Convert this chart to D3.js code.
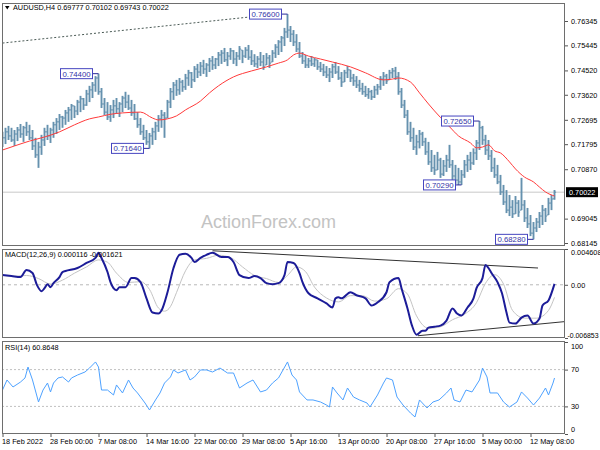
<!DOCTYPE html>
<html><head><meta charset="utf-8">
<script src="https://cdn.jsdelivr.net/npm/d3@7"></script>
<style>body{margin:0;background:#fff}</style>
</head><body>
<svg id="c" width="600" height="450"></svg>
<script>
// ---------------- DATA ----------------
const opens=[0.7180,0.7203,0.7225,0.7210,0.7195,0.7217,0.7232,0.7217,0.7240,0.7225,
0.7203,0.7173,0.7140,0.7169,0.7195,0.7225,0.7210,0.7232,0.7251,0.7262,
0.7280,0.7276,0.7295,0.7306,0.7321,0.7302,0.7335,0.7347,0.7324,0.7365,
0.7380,0.7398,0.7424,0.7373,0.7328,0.7298,0.7280,0.7306,0.7321,0.7310,
0.7328,0.7350,0.7335,0.7313,0.7295,0.7273,0.7251,0.7225,0.7203,0.7188,
0.7210,0.7225,0.7247,0.7273,0.7287,0.7276,0.7335,0.7373,0.7398,0.7380,
0.7409,0.7391,0.7424,0.7443,0.7417,0.7457,0.7446,0.7468,0.7457,0.7472,
0.7487,0.7472,0.7494,0.7509,0.7516,0.7491,0.7505,0.7524,0.7494,0.7505,
0.7527,0.7505,0.7527,0.7501,0.7487,0.7476,0.7494,0.7483,0.7472,0.7498,
0.7483,0.7516,0.7538,0.7557,0.7572,0.7594,0.7601,0.7586,0.7557,0.7531,
0.7505,0.7487,0.7472,0.7487,0.7476,0.7491,0.7465,0.7457,0.7446,0.7435,
0.7446,0.7465,0.7446,0.7424,0.7409,0.7443,0.7454,0.7424,0.7413,0.7398,
0.7384,0.7373,0.7362,0.7373,0.7354,0.7380,0.7391,0.7420,0.7431,0.7417,
0.7443,0.7450,0.7428,0.7373,0.7324,0.7287,0.7225,0.7203,0.7169,0.7188,
0.7217,0.7188,0.7151,0.7114,0.7092,0.7084,0.7121,0.7069,0.7099,0.7121,
0.7103,0.7062,0.7047,0.7040,0.7066,0.7103,0.7121,0.7110,0.7147,0.7184,
0.7240,0.7195,0.7158,0.7136,0.7092,0.7066,0.7040,0.7003,0.6966,0.6936,
0.6947,0.6922,0.6962,0.6936,0.6955,0.6907,0.6885,0.6851,0.6870,0.6892,
0.6914,0.6936,0.6918,0.6962,0.69777];
const highs=[0.7225,0.7240,0.7247,0.7240,0.7232,0.7243,0.7254,0.7247,0.7262,0.7251,
0.7232,0.7203,0.7188,0.7214,0.7240,0.7251,0.7240,0.7262,0.7276,0.7291,
0.7284,0.7306,0.7317,0.7328,0.7321,0.7343,0.7358,0.7350,0.7380,0.7395,
0.7409,0.7431,0.7440,0.7387,0.7350,0.7335,0.7324,0.7343,0.7350,0.7335,
0.7358,0.7373,0.7362,0.7343,0.7328,0.7298,0.7276,0.7251,0.7232,0.7221,
0.7240,0.7262,0.7287,0.7306,0.7298,0.7343,0.7387,0.7409,0.7417,0.7424,
0.7417,0.7439,0.7454,0.7446,0.7468,0.7476,0.7483,0.7491,0.7479,0.7498,
0.7505,0.7498,0.7520,0.7527,0.7535,0.7520,0.7535,0.7527,0.7520,0.7542,
0.7527,0.7538,0.7546,0.7527,0.7512,0.7505,0.7520,0.7509,0.7516,0.7509,
0.7527,0.7549,0.7564,0.7579,0.7609,0.7660,0.7616,0.7601,0.7586,0.7557,
0.7520,0.7509,0.7498,0.7505,0.7498,0.7491,0.7483,0.7476,0.7468,0.7461,
0.7476,0.7483,0.7468,0.7446,0.7454,0.7468,0.7454,0.7439,0.7431,0.7417,
0.7406,0.7395,0.7387,0.7380,0.7395,0.7402,0.7431,0.7446,0.7439,0.7454,
0.7461,0.7465,0.7446,0.7387,0.7343,0.7306,0.7262,0.7240,0.7214,0.7232,
0.7225,0.7203,0.7188,0.7158,0.7140,0.7151,0.7129,0.7121,0.7140,0.7177,
0.7121,0.7103,0.7092,0.7084,0.7121,0.7140,0.7151,0.7164,0.7195,0.7265,
0.7247,0.7214,0.7195,0.7158,0.7129,0.7103,0.7066,0.7029,0.7010,0.6992,
0.6973,0.6988,0.6973,0.7055,0.6973,0.6944,0.6918,0.6892,0.6907,0.6929,
0.6955,0.6944,0.6981,0.6992,0.70102];
const lows=[0.7169,0.7180,0.7195,0.7188,0.7173,0.7191,0.7203,0.7188,0.7210,0.7195,
0.7158,0.7129,0.7092,0.7140,0.7173,0.7195,0.7184,0.7203,0.7217,0.7232,
0.7240,0.7251,0.7262,0.7269,0.7276,0.7287,0.7298,0.7306,0.7321,0.7335,
0.7350,0.7373,0.7362,0.7313,0.7287,0.7269,0.7262,0.7276,0.7291,0.7280,
0.7298,0.7313,0.7306,0.7284,0.7269,0.7240,0.7214,0.7195,0.7177,0.7164,
0.7177,0.7195,0.7225,0.7240,0.7203,0.7276,0.7313,0.7343,0.7358,0.7362,
0.7373,0.7380,0.7395,0.7387,0.7409,0.7424,0.7431,0.7439,0.7428,0.7446,
0.7454,0.7457,0.7468,0.7476,0.7483,0.7468,0.7491,0.7476,0.7468,0.7491,
0.7479,0.7498,0.7491,0.7472,0.7465,0.7461,0.7468,0.7454,0.7472,0.7461,
0.7483,0.7498,0.7509,0.7520,0.7542,0.7572,0.7557,0.7542,0.7520,0.7498,
0.7476,0.7461,0.7461,0.7468,0.7465,0.7454,0.7446,0.7431,0.7424,0.7409,
0.7424,0.7439,0.7417,0.7391,0.7409,0.7424,0.7409,0.7395,0.7387,0.7373,
0.7362,0.7354,0.7347,0.7343,0.7350,0.7362,0.7380,0.7395,0.7402,0.7417,
0.7424,0.7417,0.7362,0.7313,0.7276,0.7214,0.7188,0.7158,0.7140,0.7164,
0.7173,0.7140,0.7103,0.7077,0.7066,0.7084,0.7055,0.7062,0.7077,0.7092,
0.7047,0.7032,0.7029,0.7029,0.7055,0.7077,0.7084,0.7103,0.7121,0.7158,
0.7177,0.7140,0.7121,0.7077,0.7055,0.7032,0.6992,0.6955,0.6925,0.6914,
0.6907,0.6922,0.6911,0.6936,0.6892,0.6870,0.6840,0.6828,0.6855,0.6870,
0.6881,0.6892,0.6918,0.6936,0.69743];
const closes=[0.7203,0.7225,0.7210,0.7195,0.7217,0.7232,0.7217,0.7240,0.7225,0.7203,
0.7173,0.7140,0.7169,0.7195,0.7225,0.7210,0.7232,0.7251,0.7262,0.7280,
0.7276,0.7295,0.7306,0.7321,0.7302,0.7335,0.7347,0.7324,0.7365,0.7380,
0.7398,0.7424,0.7373,0.7328,0.7298,0.7280,0.7306,0.7321,0.7310,0.7328,
0.7350,0.7335,0.7313,0.7295,0.7273,0.7251,0.7225,0.7203,0.7188,0.7210,
0.7225,0.7247,0.7273,0.7287,0.7276,0.7335,0.7373,0.7398,0.7380,0.7409,
0.7391,0.7424,0.7443,0.7417,0.7457,0.7446,0.7468,0.7457,0.7472,0.7487,
0.7472,0.7494,0.7509,0.7516,0.7491,0.7505,0.7524,0.7494,0.7505,0.7531,
0.7505,0.7527,0.7501,0.7487,0.7476,0.7494,0.7483,0.7465,0.7498,0.7479,
0.7516,0.7538,0.7557,0.7572,0.7594,0.7601,0.7586,0.7557,0.7531,0.7505,
0.7487,0.7472,0.7487,0.7476,0.7491,0.7465,0.7457,0.7446,0.7435,0.7446,
0.7465,0.7446,0.7424,0.7409,0.7443,0.7454,0.7424,0.7413,0.7398,0.7384,
0.7373,0.7362,0.7373,0.7354,0.7380,0.7391,0.7420,0.7431,0.7413,0.7443,
0.7450,0.7428,0.7373,0.7324,0.7287,0.7225,0.7203,0.7169,0.7188,0.7217,
0.7188,0.7151,0.7114,0.7092,0.7084,0.7121,0.7069,0.7099,0.7121,0.7103,
0.7062,0.7047,0.7040,0.7066,0.7103,0.7121,0.7110,0.7147,0.7184,0.7240,
0.7195,0.7158,0.7136,0.7092,0.7066,0.7040,0.7003,0.6966,0.6936,0.6947,
0.6922,0.6962,0.6929,0.6955,0.6907,0.6885,0.6851,0.6870,0.6892,0.6914,
0.6936,0.6914,0.6962,0.6977,0.70022];

const maIdx=[0,4,9,14,19,24,29,32,36,40,46,50,52,55,58,61,66,69,72,77,83,88,92,95,97,99,102,106,110,116,121,127,130,132,136,139,142,146,149,152,156,158,160,162,164,166,169,171,174,177,179,181,184];
const maVal=[0.7158,0.7173,0.7191,0.7206,0.7225,0.7251,0.7273,0.7280,0.7290,0.7295,0.7298,0.7276,0.7269,0.7273,0.7284,0.7306,0.7339,0.7369,0.7395,0.7428,0.7450,0.7465,0.7479,0.7491,0.7509,0.7516,0.7505,0.7494,0.7483,0.7465,0.7443,0.7417,0.7420,0.7424,0.7409,0.7369,0.7328,0.7278,0.7244,0.7210,0.7184,0.7166,0.7169,0.7177,0.7155,0.7147,0.7114,0.7088,0.7058,0.7040,0.7021,0.7003,0.6988];

const macdIdx=[0,3,6,8,10,11.5,13,14,15,16,17,19,20,21,25,28,31,32,33,35,36,37,38,39,41,43,44,46,48,50,52,53,55,57,59,61,63,64,66,68,70,73,75,77,79,82,84,86,88,90,92,94,95,97,99,100,102,105,108,110,111,112,113,116,118,121,123,125,128,129,132,133,135,136.5,138,140,141,142,144,146,148,150,151.5,153,155,157,158,160,161,162,163,165,166.5,168,169,171,173,175,177,179,180,182,184];
const macdVal=[0.00125,0.00112,0.00099,0.00190,0.00151,-0.00005,-0.00083,-0.00044,0.00008,-0.00031,0.00021,0.00099,0.00164,0.00177,0.00216,0.00281,0.00346,0.00412,0.00346,0.00164,0.00034,-0.00044,-0.00070,-0.00031,-0.00031,0.00086,0.00086,0.00034,-0.00175,-0.00357,-0.00370,-0.00331,-0.00096,0.00216,0.00386,0.00399,0.00346,0.00294,0.00346,0.00386,0.00412,0.00359,0.00359,0.00294,0.00125,0.00086,0.00112,0.00086,0.00021,0.00008,0.00021,0.00125,0.00294,0.00281,0.00151,0.00034,-0.00109,-0.00175,-0.00240,-0.00292,-0.00175,-0.00161,-0.00175,-0.00096,-0.00135,-0.00175,-0.00266,-0.00227,-0.00096,0.00034,0.00086,-0.00044,-0.00305,-0.00526,-0.00643,-0.00591,-0.00591,-0.00552,-0.00539,-0.00526,-0.00461,-0.00305,-0.00370,-0.00396,-0.00292,-0.00175,-0.00044,0.00086,0.00255,0.00216,0.00151,0.00034,-0.00109,-0.00357,-0.00487,-0.00500,-0.00422,-0.00396,-0.00500,-0.00435,-0.00266,-0.00201,0.000116];

const sigIdx=[0,4,8,12,16,20,24,28,32,35,38,42,46,49,52,54,56,58,61,64,68,72,76,80,84,88,92,95,98,101,104,108,112,116,120,124,128,132,135,138,142,146,150,154,158,161,164,167,170,174,178,182,184];
const sigVal=[0.00120,0.00110,0.00120,0.00080,0.00010,0.00060,0.00150,0.00230,0.00320,0.00290,0.00150,0.00030,0.00040,-0.00060,-0.00300,-0.00340,-0.00280,-0.00100,0.00180,0.00320,0.00340,0.00380,0.00350,0.00230,0.00120,0.00080,0.00030,0.00120,0.00230,0.00170,-0.00030,-0.00170,-0.00220,-0.00140,-0.00140,-0.00210,-0.00180,-0.00050,-0.00120,-0.00400,-0.00560,-0.00540,-0.00450,-0.00380,-0.00230,0.00020,0.00130,0.00010,-0.00330,-0.00430,-0.00430,-0.00330,-0.001621];

const rsiIdx=[0,1.5,3.5,6,7.5,8.5,10,12,13.5,15,16,17,18.5,20,22,23,25,27.5,29,31,32,33,35,37,38,40,42,43.5,45,47.5,49,51,52.5,54,56,57,58.5,61,62.5,64,66,68,70,72.5,75,77,79,81.5,83.5,86,88,90,92,93.5,95,96.5,98,99,101.5,103.5,106,108,109,110,111.5,113.5,115,117,119,121.5,122.5,125,127,128,130,131.5,133.5,136,137.5,139,141.5,143.5,145.5,148,149.5,150.5,152.5,154.5,156.5,159,160,161.5,162.5,165,167,169,171.5,173,175,177,179,181,182,183.5,184];
const rsiVal=[47.8,58.7,51.1,56.5,60.9,72.8,58.7,34.8,47.8,55.4,45.7,55.4,60.9,62.0,56.5,60.9,64.1,67.4,71.7,78.3,72.8,47.8,47.8,42.4,53.3,44.6,58.7,50.0,44.6,33.7,26.1,37.0,44.6,55.4,62.0,69.6,66.3,69.6,58.7,62.0,69.6,69.6,67.4,71.7,66.3,66.3,50.0,55.4,58.7,45.7,47.8,55.4,60.9,69.6,78.3,64.1,58.7,45.7,37.0,37.0,34.8,31.5,29.3,51.1,44.6,37.0,50.0,40.2,37.0,33.7,29.3,42.4,55.4,60.9,58.7,40.2,31.5,22.8,18.5,37.0,28.3,34.8,37.0,44.6,50.0,37.0,34.8,47.8,45.7,58.7,71.7,62.0,44.6,44.6,34.8,29.3,34.8,45.7,39.1,31.5,39.1,50.0,42.4,55.4,60.8648];

const pivotIdx=[32,95,49,159,153,177];
const pivotPrice=[0.74400,0.76600,0.71640,0.72650,0.70290,0.68280];
const priceTrend=[[0,0.7553],[83,0.7650]];
const macdTrendUpper=[[70,0.00438],[178.5,0.00216]];
const macdTrendLower=[[138.5,-0.00656],[187.5,-0.00474]];
const priceTicks=[0.76345,0.75445,0.74520,0.73620,0.72695,0.71795,0.70870,0.69045,0.68145];
const macdTicks=[0.004608,0,-0.006853];
const macdTickLabels=["0.004608","0.00","-0.006853"];
const rsiTicks=[100,70,30,0];
const rsiLevels=[70,30];
const timeTickIdx=[0,16,32,48,64,80,96,112,128,144,160,176];
const timeLabels=["18 Feb 2022","28 Feb 00:00","7 Mar 08:00","14 Mar 16:00","22 Mar 00:00","29 Mar 08:00","5 Apr 16:00","13 Apr 00:00","20 Apr 08:00","27 Apr 16:00","5 May 00:00","12 May 08:00"];
const symbol="AUDUSD,H4";
const lastPrice=0.70022;
const macdParams="MACD(12,26,9)";
const rsiParams="RSI(14)";

// ---------------- LAYOUT ----------------
const F='"Liberation Sans", Arial, sans-serif';
const FS=7.3;
const X0=2, X1=565;
const panels={price:[3,246],macd:[249,338],rsi:[341,434]};
const svg=d3.select("#c");
svg.append("rect").attr("width",600).attr("height",450).attr("fill","#fff");
const defs=svg.append("defs");
Object.entries(panels).forEach(([k,[t,b]])=>{
  defs.append("clipPath").attr("id","clip-"+k).append("rect")
   .attr("x",X0).attr("y",t).attr("width",X1-X0).attr("height",b-t);
});

const x=d3.scaleLinear().domain([0,184]).range([2.5,554.5]);
const yP=d3.scaleLinear().domain([0.68145,0.76345]).range([243,21]);
const yM=d3.scaleLinear().domain([-0.006853,0.004608]).range([338,249]);
const yR=d3.scaleLinear().domain([0,100]).range([434,342]);
const f5=d3.format(".5f");

// ---------------- PRICE PANEL ----------------
const gP=svg.append("g").attr("clip-path","url(#clip-price)");
gP.append("line").attr("x1",X0).attr("x2",X1).attr("y1",yP(lastPrice)).attr("y2",yP(lastPrice))
  .attr("stroke","#c8c8c8").attr("stroke-width",1);
gP.append("line").attr("x1",x(priceTrend[0][0])).attr("y1",yP(priceTrend[0][1]))
  .attr("x2",x(priceTrend[1][0])).attr("y2",yP(priceTrend[1][1]))
  .attr("stroke","#4a5a55").attr("stroke-width",1).attr("stroke-dasharray","2,2");
svg.append("text").attr("x",201).attr("y",228).attr("font-family",F).attr("font-size",18)
  .attr("fill","#c3c3c3").text("ActionForex.com");
const barColor="#6591ae";
const bars=gP.append("g").selectAll("g").data(d3.range(highs.length)).join("g");
bars.append("line").attr("x1",i=>x(i)).attr("x2",i=>x(i))
  .attr("y1",i=>yP(highs[i])).attr("y2",i=>yP(lows[i]))
  .attr("stroke",barColor).attr("stroke-width",1.9);
bars.append("line").attr("x1",i=>x(i)-1.6).attr("x2",i=>x(i))
  .attr("y1",i=>yP(opens[i])).attr("y2",i=>yP(opens[i]))
  .attr("stroke",barColor).attr("stroke-width",1);
bars.append("line").attr("x1",i=>x(i)).attr("x2",i=>x(i)+1.6)
  .attr("y1",i=>yP(closes[i])).attr("y2",i=>yP(closes[i]))
  .attr("stroke",barColor).attr("stroke-width",1);
gP.append("path").datum(d3.range(maIdx.length))
  .attr("d",d3.line().x(k=>x(maIdx[k])).y(k=>yP(maVal[k])).curve(d3.curveMonotoneX))
  .attr("fill","none").attr("stroke","#ff3a3a").attr("stroke-width",1);
const pivG=svg.append("g");
pivotIdx.forEach((pi,k)=>{
  const px=x(pi), py=yP(pivotPrice[k]);
  const bw=32,bh=10,bx=px-6-bw;
  pivG.append("line").attr("x1",bx+bw).attr("x2",px).attr("y1",py).attr("y2",py)
    .attr("stroke","#2b2b9a").attr("stroke-width",1);
  pivG.append("rect").attr("x",bx).attr("y",py-bh/2).attr("width",bw).attr("height",bh)
    .attr("fill","#fff").attr("stroke","#4646c0").attr("stroke-width",1);
  pivG.append("text").attr("x",bx+bw/2).attr("y",py+2.9).attr("text-anchor","middle")
    .attr("font-family",F).attr("font-size",7.8).attr("fill","#3434a8").text(f5(pivotPrice[k]));
});
svg.append("path").attr("d","M5,6 L9.5,6 L7.25,9.5 Z").attr("fill","#000");
svg.append("text").attr("x",13).attr("y",10).attr("font-family",F).attr("font-size",FS)
  .attr("fill","#000").text(symbol+" "+[opens[184],highs[184],lows[184],closes[184]].map(f5).join(" "));

// ---------------- MACD PANEL ----------------
const gM=svg.append("g").attr("clip-path","url(#clip-macd)");
gM.append("line").attr("x1",X0).attr("x2",X1).attr("y1",yM(0)).attr("y2",yM(0))
  .attr("stroke","#b8b8b8").attr("stroke-dasharray","3,3");
gM.append("path").datum(d3.range(sigIdx.length))
  .attr("d",d3.line().x(k=>x(sigIdx[k])).y(k=>yM(sigVal[k])).curve(d3.curveMonotoneX))
  .attr("fill","none").attr("stroke","#c4c4c4").attr("stroke-width",1);
[macdTrendUpper,macdTrendLower].forEach(t=>{
  gM.append("line").attr("x1",x(t[0][0])).attr("y1",yM(t[0][1])).attr("x2",x(t[1][0])).attr("y2",yM(t[1][1]))
   .attr("stroke","#333").attr("stroke-width",1);
});
gM.append("path").datum(d3.range(macdIdx.length))
  .attr("d",d3.line().x(k=>x(macdIdx[k])).y(k=>yM(macdVal[k])).curve(d3.curveMonotoneX))
  .attr("fill","none").attr("stroke","#1c1c98").attr("stroke-width",2);
svg.append("text").attr("x",5).attr("y",257).attr("font-family",F).attr("font-size",FS)
  .attr("fill","#000").text(macdParams+" "+macdVal[macdVal.length-1].toFixed(6)+" "+sigVal[sigVal.length-1].toFixed(6));

// ---------------- RSI PANEL ----------------
const gR=svg.append("g").attr("clip-path","url(#clip-rsi)");
rsiLevels.forEach(l=>{
  gR.append("line").attr("x1",X0).attr("x2",X1).attr("y1",yR(l)).attr("y2",yR(l))
   .attr("stroke","#c0c0c0").attr("stroke-dasharray","2,2");
});
gR.append("path").datum(d3.range(rsiIdx.length))
  .attr("d",d3.line().x(k=>x(rsiIdx[k])).y(k=>yR(rsiVal[k])))
  .attr("fill","none").attr("stroke","#4ea2ff").attr("stroke-width",1);
svg.append("text").attr("x",5).attr("y",350).attr("font-family",F).attr("font-size",FS)
  .attr("fill","#000").text(rsiParams+" "+rsiVal[rsiVal.length-1].toFixed(4));

// ---------------- BORDERS ----------------
Object.values(panels).forEach(([t,b])=>{
  svg.append("rect").attr("x",X0+0.5).attr("y",t+0.5).attr("width",X1-X0-1).attr("height",b-t-1)
   .attr("fill","none").attr("stroke","#6e6e6e").attr("stroke-width",1);
});

// ---------------- AXES ----------------
function styleAxis(g){
  g.select(".domain").remove();
  g.selectAll("line").attr("stroke","#555");
  g.selectAll("text").attr("font-family",F).attr("font-size",FS).attr("fill","#000");
}
svg.append("g").attr("transform",`translate(${X1},0)`)
  .call(d3.axisRight(yP).tickValues(priceTicks).tickFormat(f5).tickSize(3).tickPadding(3))
  .call(styleAxis);
const axM=svg.append("g").attr("transform",`translate(${X1},0)`)
  .call(d3.axisRight(yM).tickValues(macdTicks).tickFormat((d,i)=>macdTickLabels[i]).tickSize(3).tickPadding(3))
  .call(styleAxis);
axM.selectAll(".tick text").attr("dy",(d,i)=>i===0?"0.75em":(i===2?"-0.05em":"0.32em"))
  .attr("dx",(d,i)=>i===2?-3.5:0).attr("font-size",(d,i)=>i===2?6.9:FS);
const axR=svg.append("g").attr("transform",`translate(${X1},0)`)
  .call(d3.axisRight(yR).tickValues(rsiTicks).tickSize(3).tickPadding(3))
  .call(styleAxis);
axR.selectAll(".tick text").attr("dy",(d,i)=>i===0?"0.85em":(i===3?"-0.3em":"0.32em"));
const axT=svg.append("g").attr("transform",`translate(0,${panels.rsi[1]})`)
  .call(d3.axisBottom(x).tickValues(timeTickIdx).tickFormat((d,i)=>timeLabels[i]).tickSize(3).tickPadding(2))
  .call(styleAxis);
axT.selectAll(".tick text").attr("text-anchor","start").attr("dx","-1");
const lpY=yP(lastPrice);
svg.append("rect").attr("x",566).attr("y",lpY-5).attr("width",32).attr("height",10).attr("fill","#000");
svg.append("text").attr("x",569).attr("y",lpY+2.7).attr("font-family",F).attr("font-size",FS)
  .attr("fill","#fff").text(f5(lastPrice));
</script>
</body></html>
